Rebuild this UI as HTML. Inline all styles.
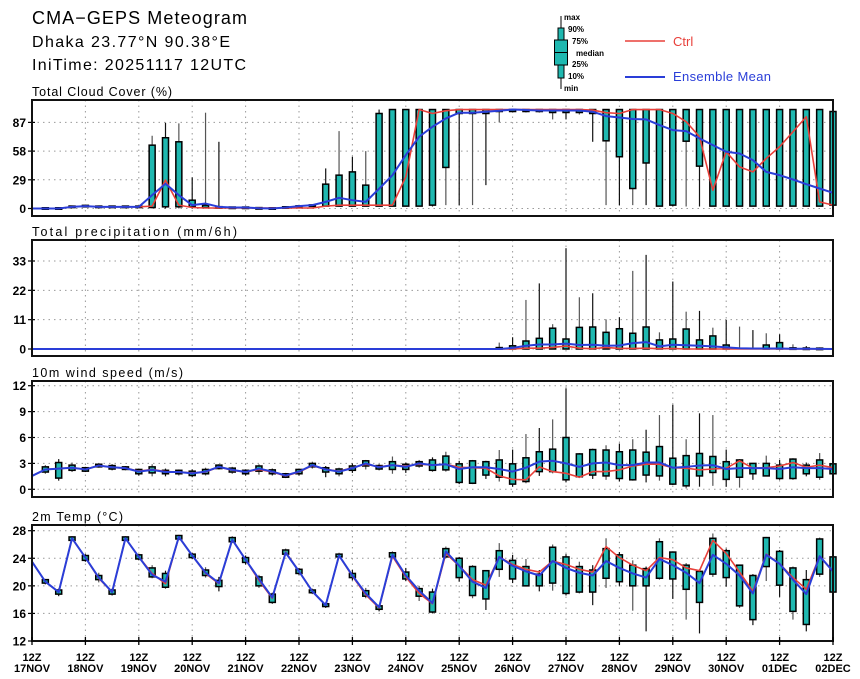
<!DOCTYPE html>
<html><head><meta charset="utf-8"><style>
html,body{margin:0;padding:0;background:#fff;}
svg{display:block;font-family:"Liberation Sans",sans-serif;}
</style></head><body>
<svg id="chart" width="860" height="679" viewBox="0 0 860 679" xmlns="http://www.w3.org/2000/svg">
<text x="32" y="24" font-size="18" textLength="215" lengthAdjust="spacing">CMA−GEPS Meteogram</text>
<text x="32" y="47" font-size="16" textLength="198" lengthAdjust="spacing">Dhaka 23.77°N 90.38°E</text>
<text x="32" y="70" font-size="16" textLength="214" lengthAdjust="spacing">IniTime: 20251117 12UTC</text>
<g>
  <g>
    <line x1="561" y1="16" x2="561" y2="89" stroke="#000" stroke-width="1"/>
    <rect x="558" y="28" width="6" height="50" fill="#1fb8b0" stroke="#000" stroke-width="1"/>
    <rect x="554.5" y="40" width="13" height="25" fill="#1fb8b0" stroke="#000" stroke-width="1"/>
    <line x1="554.5" y1="52.5" x2="567.5" y2="52.5" stroke="#000" stroke-width="1"/>
    <g font-size="8" font-weight="bold">
      <text x="564" y="20">max</text><text x="568" y="32">90%</text><text x="572" y="44">75%</text>
      <text x="576" y="56">median</text><text x="572" y="67">25%</text><text x="568" y="79">10%</text><text x="564" y="91">min</text>
    </g>
  </g>
  <line x1="625" y1="41" x2="665" y2="41" stroke="#e8403a" stroke-width="1.5"/>
  <text x="673" y="46" font-size="13" fill="#e8403a">Ctrl</text>
  <line x1="625" y1="77" x2="665" y2="77" stroke="#2a3ed8" stroke-width="2"/>
  <text x="673" y="81" font-size="13" fill="#2a3ed8" textLength="98" lengthAdjust="spacing">Ensemble Mean</text>
</g>
<g id="plots"></g>
</svg>
<script>
// Time axis labels
const dayLabels = ["17NOV","18NOV","19NOV","20NOV","21NOV","22NOV","23NOV","24NOV","25NOV","26NOV","27NOV","28NOV","29NOV","30NOV","01DEC","02DEC"];
// Cloud cover (%)
const cloudMean = [0,0,0,1.7,2.4,1.7,1.7,1.7,1.7, 13.5,25,13.5,3.4,5,1.7, 1,1,0.3,0,1,2.4,3.4, 6.7,10.8,8.4,6.7,20,33.7,54,72.5, 82.6,91,96.8,96.8,97.8,98.8,100,99.5,99,99, 99,99,97.8,93.4,92,90.4,90,84.3,79.2,78.2, 70.8,64,57.3,55.6,48.9,37,33.7,29.3,24.6,20.2,15.8];
const cloudCtrl = [0,0,0,1.7,2.4,1.7,1.7,1.7,1.7, 2.4,28.7,3.4,1,0.5,0.5, 0.5,0.5,0.5,0.5,0.5,0.5,0.5, 2.4,3.4,3.4,3.4,3.4,3.4,32,100, 96,98.8,100,100,100,100,100,100,100,100, 100,100,99.5,96.8,96,100,100,100,96,87.7, 72.5,18.5,57.3,42.1,37,50.6,62.4,77.5,92.7,6.7,3.4];
const cloudQ75 = [0,0,0,1.7,2.4,1.7,1.7,1.7,1.7, 64,71.5,67.4,8.4,3.4,1.7, 1,1,0.3,0,1.5,2.4,3.4, 24.6,33.7,37,23.6,96,100,100,100, 100,100,100,100,100,100,100,100,100,100, 100,100,100,100,100,100,100,100,100,100, 100,100,100,100,100,100,100,100,100,100,98];
const cloudQ25 = [0,0,0,1.7,2.4,1.7,1.7,1.7,1.7, 1,1.7,1.7,1.7,1,0.5, 0.5,0.5,0,0,0.5,1.5,2.4, 2.4,2.4,2.4,2.4,2.4,2.4,2.4,2.4, 3.4,41.5,96,96,96,98,98,98,98,97, 97,97,96,68.4,52.3,20.2,46,2.4,3.4,68, 42.8,2.4,2.4,2.4,2.4,2.4,2.4,2.4,2.4,2.4,3.4];
const cloudMax = [0,0,0,2,3,2,2,2,2, 73.5,86.6,86,31.4,96.8,67.4, 2,1,1,0.5,2,3,4, 40.5,78.2,52.3,58,100,100,100,100, 100,100,100,100,100,100,100,100,100,100, 100,100,100,100,100,100,100,100,100,100, 100,100,100,100,100,100,100,100,100,100,100];
const cloudMin = [0,0,0,1.5,2,1.5,1.5,1.5,1.5, 0,0,0,0,0,0, 0,0,0,0,0,1,2, 2,2,2,2,2,2,2,2, 2,3.4,3.4,3.4,23.6,87,97,97,97,90, 90,95,67.4,3.4,3.4,3.4,3.4,2,2,2, 2,2,2,2,2,2,2,2,2,2,2];
const cloudTicks = [0,29,58,87];
// Precipitation (mm/6h)
const precMean = [0,0,0,0,0,0,0,0,0,0,0,0,0,0,0,0,0,0,0,0,0,0,0,0,0,0,0,0,0,0,0,0,0,0,0,0, 0.4,1.2,1.7,1.7,2.0,1.5,1.6,1.2,1.3,2.2,2.6,1.0, 1.6,1.4,1.2,1.0,0.6,0.3,0.2,0.2,0.2,0.1,0.1,0.05,0];
const precCtrl = [0,0,0,0,0,0,0,0,0,0,0,0,0,0,0,0,0,0,0,0,0,0,0,0,0,0,0,0,0,0,0,0,0,0,0,0,0, 0.3,0.3,0.6,1.1,0.3,0.1,0.6,0.2,0.2,0.3,0.1,0.2, 0,0,0,0,0,0,0,0,0,0,0,0];
const precQ75 = [0,0,0,0,0,0,0,0,0,0,0,0,0,0,0,0,0,0,0,0,0,0,0,0,0,0,0,0,0,0,0,0,0,0,0, 0.5,1.2,3,4,7.8,3.75,8.1,8.25,6.25,7.6,5.9,8.25,3.4, 3.75,7.5,3.4,4.9,1.5,0,0,1.5,2.4,0.3,0.2,0.1,0];
const precMax = [0,0,0,0,0,0,0,0,0,0,0,0,0,0,0,0,0,0,0,0,0,0,0,0,0,0,0,0,0,0,0,0,0,0,0, 2.4,4.4,18.4,24.6,9.3,37.8,19.4,20.9,11.1,11.9,29.3,35.3,6.25, 25.3,14,14.3,8,10.9,8.4,7.1,5.9,5.5,1.75,1.1,0.6,0];
const precTicks = [0,11,22,33];
// Wind speed (m/s)
const windMean = [1.55,2.3,2.4,2.5,2.3,2.75,2.55,2.45,2.05,2.25, 2.0,2.0,1.85,2.05,2.6,2.25,2.0,2.4,2.05,1.6, 2.05,2.8,2.3,2.05,2.45,3.0,2.55,2.8,2.6,3.0, 2.8,2.9,2.35,2.55,2.55,2.35,2.05,2.5,3.2,3.3, 3.0,2.6,3.0,3.1,2.8,2.8,3.1,3.1,2.5,2.6, 2.75,2.8,2.35,2.45,2.45,2.45,2.35,2.55,2.45,2.45,2.35];
const windCtrl = [1.55,2.3,2.4,2.5,2.3,2.75,2.55,2.45,2.1,2.3, 2.05,2.0,1.9,2.0,2.6,2.2,2.0,2.3,2.0,1.55, 2.0,2.75,2.3,2.1,2.5,2.9,2.6,2.8,2.7,2.9, 2.8,2.9,2.55,2.5,2.45,1.55,1.15,1.1,2.6,2.05, 1.85,1.4,2.05,2.05,2.25,2.7,2.9,2.9,2.5,2.45, 2.25,2.35,2.45,3.3,2.45,2.5,2.7,3.1,2.55,2.8,2.5];
const windQ75 = [1.55,2.6,3.1,2.8,2.5,2.9,2.75,2.6,2.3,2.6, 2.2,2.2,2.1,2.3,2.8,2.45,2.2,2.7,2.25,1.8, 2.3,3.0,2.5,2.35,2.7,3.3,2.75,3.2,2.9,3.2, 3.4,3.85,2.95,3.3,3.2,3.4,2.95,3.65,4.35,4.65, 6.0,4.1,4.6,4.55,4.35,4.55,4.3,4.95,3.6,3.9, 4.15,3.8,3.2,3.4,3.0,3.0,2.8,3.5,2.8,3.4,2.95];
const windQ25 = [1.55,2.0,1.3,2.2,2.1,2.6,2.35,2.3,1.8,1.9, 1.8,1.8,1.6,1.8,2.4,2.0,1.8,2.1,1.8,1.4, 1.8,2.6,2.0,1.8,2.2,2.7,2.35,2.3,2.3,2.7, 2.2,2.25,0.8,0.7,1.65,1.4,0.6,0.9,2.05,2.05, 1.1,1.45,1.65,1.55,1.25,1.1,1.65,1.55,0.6,0.4, 1.55,1.95,1.15,1.4,1.8,1.55,1.25,1.25,1.8,1.4,1.8];
const windMax = [1.55,2.8,3.5,3.1,2.6,3.0,2.9,2.7,2.4,2.9, 2.4,2.3,2.3,2.5,2.9,2.6,2.3,2.9,2.4,1.9, 2.4,3.2,2.7,2.5,3.0,3.4,2.9,3.8,3.1,3.4, 3.7,4.35,3.3,3.4,3.3,4.55,4.6,6.4,7.1,8.1, 11.7,4.2,4.7,5.1,5.3,5.8,6.9,8.6,9.8,5.8, 8.8,8.6,4.6,3.5,3.0,3.9,3.4,3.6,3.1,4.2,3.3];
const windMin = [1.55,1.8,1.0,2.0,2.0,2.5,2.2,2.2,1.6,1.5, 1.5,1.6,1.4,1.6,2.3,1.8,1.6,1.7,1.6,1.3, 1.6,2.4,1.4,1.5,1.9,2.3,2.2,1.8,1.9,2.5, 2.05,2.05,0.6,0.6,1.2,0.9,0.3,0.7,1.55,1.85, 0.8,1.3,1.2,1.1,0.9,1.0,0.8,1.0,0.5,0.1, 0.3,0.4,0.3,0.2,1.1,1.5,1.1,1.1,1.5,1.1,1.5];
const windTicks = [0,3,6,9,12];
// 2m temperature (°C)
const tempMean = [23.5,20.6,19.1,26.9,24.1,21.2,19.1,26.9,24.2,21.6, 20.6,27.1,24.4,21.9,20.4,26.7,23.8,21.0,18.3,24.8, 22.1,19.2,17.2,24.4,21.5,18.9,16.9,24.5,21.5,19.3, 17.5,25.0,22.9,20.6,19.7,24.2,22.9,22.1,21.5,23.6, 22.6,21.9,21.5,23.6,22.6,21.8,21.2,23.9,23.0,21.9, 20.4,24.5,23.2,21.5,18.9,24.5,23.2,20.9,18.8,24.3,22.1];
const tempCtrl = [23.5,20.6,19.1,26.9,24.1,21.1,19.1,26.9,24.2,21.8, 20.3,27.1,24.4,21.8,20.3,26.7,23.8,20.8,18.2,24.9, 22.1,19.2,17.2,24.4,21.4,18.7,16.8,24.3,21.3,18.9, 17.4,24.7,22.9,20.9,20.1,24.2,23.1,22.4,22.0,23.6, 23.1,22.4,22.0,25.7,24.1,23.0,22.2,24.1,23.8,22.6, 22.2,26.6,24.7,22.0,19.2,24.6,23.2,21.2,19.5,24.3,22.1];
const tempQ75 = [23.6,20.9,19.4,27.1,24.4,21.5,19.4,27.1,24.5,22.6, 21.8,27.3,24.6,22.3,20.8,27.0,24.1,21.3,18.8,25.2, 22.4,19.4,17.4,24.6,21.8,19.3,17.1,24.8,22.0,19.6, 19.1,25.4,24.0,22.8,22.2,25.1,23.7,22.8,21.7,25.6, 24.2,22.8,22.3,25.4,24.5,23.0,22.5,26.4,24.9,23.0, 22.1,26.9,25.1,23.0,21.5,27.0,25.0,22.6,20.9,26.8,24.2];
const tempQ25 = [23.4,20.4,18.8,26.6,23.7,20.9,18.8,26.6,23.9,21.3, 19.8,26.8,24.1,21.5,19.9,26.4,23.4,20.0,17.6,24.6, 21.8,19.0,17.0,24.2,21.2,18.5,16.6,24.2,21.0,18.5, 16.2,24.2,21.2,18.6,18.1,22.4,21.0,20.0,20.0,20.4, 18.9,19.1,19.1,21.1,20.6,20.0,20.0,21.1,21.0,19.5, 17.6,21.7,21.2,17.1,15.1,22.8,20.1,16.3,14.4,21.7,19.1];
const tempMax = [23.7,21.0,19.6,27.2,24.6,21.9,19.6,27.2,24.6,23.0, 22.2,27.4,24.8,22.7,21.3,27.2,24.4,21.6,19.0,25.4, 22.6,19.6,17.6,24.8,22.3,19.7,17.3,25.0,22.6,20.0, 19.6,25.7,24.2,23.0,22.3,26.2,24.5,23.9,22.3,26.0, 24.6,23.5,23.0,26.9,24.9,23.7,22.8,26.9,25.0,23.3, 22.4,27.6,25.4,23.1,21.7,27.1,25.2,22.8,22.3,27.0,24.4];
const tempMin = [23.3,20.2,18.5,26.5,23.5,20.5,18.6,26.5,23.7,21.1, 19.6,26.6,23.9,21.2,19.2,26.2,23.1,19.7,17.4,24.4, 21.6,18.8,16.8,24.0,20.8,18.2,16.3,24.0,20.7,17.8, 16.0,24.0,20.6,18.2,16.5,21.3,20.4,19.9,19.2,19.3, 18.6,18.9,17.2,19.7,20.0,16.4,13.4,20.9,18.1,15.1, 13.1,21.3,19.9,16.8,14.3,20.7,18.4,15.1,13.4,21.3,18.8];
const tempTicks = [12,16,20,24,28];

const NS = "http://www.w3.org/2000/svg";
const root = document.getElementById("plots");
const X0 = 32, X1 = 833, NSTEP = 60;
function xAt(i){ return X0 + (X1 - X0) * i / NSTEP; }
function mk(tag, attrs, parent){
  const e = document.createElementNS(NS, tag);
  for (const k in attrs) e.setAttribute(k, attrs[k]);
  (parent || root).appendChild(e);
  return e;
}

const panels = [
  {key:"cloud", title:"Total Cloud Cover (%)", tw:140, top:100, bot:216, v0:0, y0:208.5, v1:87, y1:122.4, ticks:cloudTicks,
   mean:cloudMean, ctrl:cloudCtrl, q25:cloudQ25, q75:cloudQ75, mn:cloudMin, mx:cloudMax},
  {key:"precip", title:"Total precipitation (mm/6h)", tw:205, top:240, bot:356, v0:0, y0:349, v1:33, y1:261, ticks:precTicks,
   mean:precMean, ctrl:precCtrl, q25:null, q75:precQ75, mn:null, mx:precMax},
  {key:"wind", title:"10m wind speed (m/s)", tw:151, top:381, bot:497, v0:0, y0:489.3, v1:12, y1:385.7, ticks:windTicks,
   mean:windMean, ctrl:windCtrl, q25:windQ25, q75:windQ75, mn:windMin, mx:windMax},
  {key:"temp", title:"2m Temp (°C)", tw:91, top:525, bot:641, v0:12, y0:641, v1:28, y1:530.7, ticks:tempTicks,
   mean:tempMean, ctrl:tempCtrl, q25:tempQ25, q75:tempQ75, mn:tempMin, mx:tempMax}
];

panels.forEach(function(p, pi){
  const yAt = function(v){ return p.y0 + (v - p.v0) * (p.y1 - p.y0) / (p.v1 - p.v0); };
  const g = mk("g", {});
  
  
  const t = mk("text", {x:32, y:p.top - 4, "font-size":12.5, textLength:p.tw, lengthAdjust:"spacing"}, g);
  t.textContent = p.title;
  
  
  // grid
  const grid = mk("g", {stroke:"#9a9a9a", "stroke-width":1, "stroke-dasharray":"1.5,4"}, g);
  
  
  for (let d = 1; d < 15; d++){
    const x = xAt(d*4);
    mk("line", {x1:x, x2:x, y1:p.top, y2:p.bot}, grid);
  }
  p.ticks.forEach(function(tv){
    const y = yAt(tv);
    if (y > p.top + 2 && y < p.bot - 2) mk("line", {x1:X0, x2:X1, y1:y, y2:y}, grid);
  });
  // y axis ticks/labels
  p.ticks.forEach(function(tv){
    const y = yAt(tv);
    const tk = mk("line", {x1:X0 - 4, x2:X0 + 3, y1:y, y2:y, stroke:"#000", "stroke-width":1.2}, g);
    
    
    const tl = mk("text", {x:X0 - 6, y:y + 4.5, "font-size":12, "font-weight":"bold", "text-anchor":"end"}, g);
    tl.textContent = String(tv);
    
    
  });
  // boxes
  const boxes = mk("g", {}, g);
  
  
  for (let i = 1; i <= NSTEP; i++){
    const x = xAt(i);
    const lo = p.mn ? p.mn[i] : 0;
    const hi = p.mx[i];
    const q25 = p.q25 ? p.q25[i] : 0;
    const q75 = p.q75[i];
    if (hi - lo > 0.05){
      const w = mk("line", {x1:x, x2:x, y1:yAt(hi), y2:yAt(lo), stroke:(i%2? "#555":"#111"), "stroke-width":1.2}, boxes);
      
      
    }
    if (p.key === "precip" && q75 <= 0) continue;
    const yt = yAt(q75), yb = yAt(q25);
    const h = Math.max(yb - yt, 1.5);
    const b = mk("rect", {x:x - 3, y:yt - (h - (yb - yt))/2, width:6, height:h, fill:"#1fb8b0", stroke:"#000", "stroke-width":1.5}, boxes);
    
    
  }
  // lines
  function line(arr, color, width, name){
    let d = "";
    arr.forEach(function(v, i){ d += (i ? "L" : "M") + xAt(i).toFixed(2) + "," + yAt(v).toFixed(2); });
    const l = mk("path", {d:d, fill:"none", stroke:color, "stroke-width":width, "stroke-linejoin":"round"}, g);
    
    
  }
  line(p.ctrl, "#e8403a", 1.6, p.key + '-ctrl-line');
  line(p.mean, "#2a3ed8", 2, p.key + '-mean-line');
  // frame
  const fr = mk("rect", {x:X0, y:p.top, width:X1 - X0, height:p.bot - p.top, fill:"none", stroke:"#111", "stroke-width":2}, g);
  
  
});

// x axis labels on bottom panel
const xg = mk("g", {});


dayLabels.forEach(function(lab, d){
  const x = xAt(d*4);
  mk("line", {x1:x, x2:x, y1:641 - 4, y2:641 + 4, stroke:"#000", "stroke-width":1.3}, xg);
  const a = mk("text", {x:x, y:661, "font-size":11, "font-weight":"bold", "text-anchor":"middle"}, xg);
  a.textContent = "12Z";
  
  
  const b = mk("text", {x:x, y:672, "font-size":11, "font-weight":"bold", "text-anchor":"middle"}, xg);
  b.textContent = lab;
  
  
});
</script>
</body></html>
